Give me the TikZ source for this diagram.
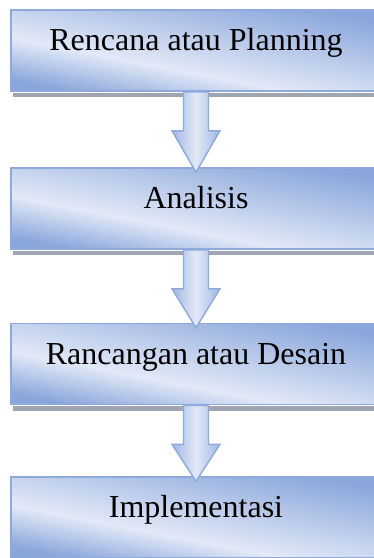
\documentclass[tikz,border=0pt]{standalone}
\usepackage{fontspec}
\setmainfont{Liberation Serif}
\usetikzlibrary{calc}
\definecolor{stageedge}{RGB}{142,170,219}
\definecolor{stagelight}{RGB}{226,233,247}
\definecolor{stagedark}{RGB}{138,166,219}
\definecolor{stageshadow}{RGB}{160,165,180}
\pgfdeclareverticalshading{stageband}{100bp}{color(0bp)=(stagedark); color(25bp)=(stagedark);
  color(41bp)=(stagelight); color(75bp)=(stagedark); color(100bp)=(stagedark)}
\tikzset{
  stagebox/.style={draw=stageedge, line width=1.6pt,
    minimum width=370pt, minimum height=81pt, inner sep=0pt,
    text height=15pt, text depth=15pt,
    shading=stageband, shading angle=-11, font=\fontsize{32}{38}\selectfont},
  flowarrow/.style={draw=stageedge, line width=1.4pt, line join=miter,
    left color=stagedark!75!stagelight, right color=stagedark!75!stagelight,
    middle color=stagelight},
  dropshadow/.style={fill=stageshadow}
}
\begin{document}
\begin{tikzpicture}[x=1pt,y=1pt]
  \useasboundingbox (0,0) rectangle (374,-558);
  % stages
  \node[stagebox] (rencana) at (196,-50.5) {Rencana atau Planning};
  \node[stagebox] (analisis) at (196,-208.5) {Analisis};
  \node[stagebox] (rancangan) at (196,-364) {Rancangan atau Desain};
  \node[stagebox] (implementasi) at (196,-517.5) {Implementasi};
  % shadows under the boxes
  \foreach \stage in {rencana,analisis,rancangan}
    \fill[dropshadow] ($(\stage.south west)+(3,-0.8)$) rectangle ($(\stage.south east)+(0,-5.5)$);
  % block arrows
  \foreach \from/\to in {rencana/analisis,analisis/rancangan,rancangan/implementasi}{
    \begin{scope}[shift={(2,-2)}]
      \fill[dropshadow]
        let \p1=(\from.south), \p2=(\to.north) in
        (\x1-12.5,\y1-2) -- (\x1-12.5,\y1-39) -- (\x1-24,\y1-39) -- (\x1,\y2-5)
        -- (\x1+24,\y1-39) -- (\x1+12.5,\y1-39) -- (\x1+12.5,\y1-2) -- cycle;
    \end{scope}
    \draw[flowarrow]
      let \p1=(\from.south), \p2=(\to.north) in
      (\x1-12.5,\y1) -- (\x1-12.5,\y1-39) -- (\x1-24,\y1-39) -- (\x1,\y2-5)
      -- (\x1+24,\y1-39) -- (\x1+12.5,\y1-39) -- (\x1+12.5,\y1) -- cycle;
  }
\end{tikzpicture}
\end{document}
